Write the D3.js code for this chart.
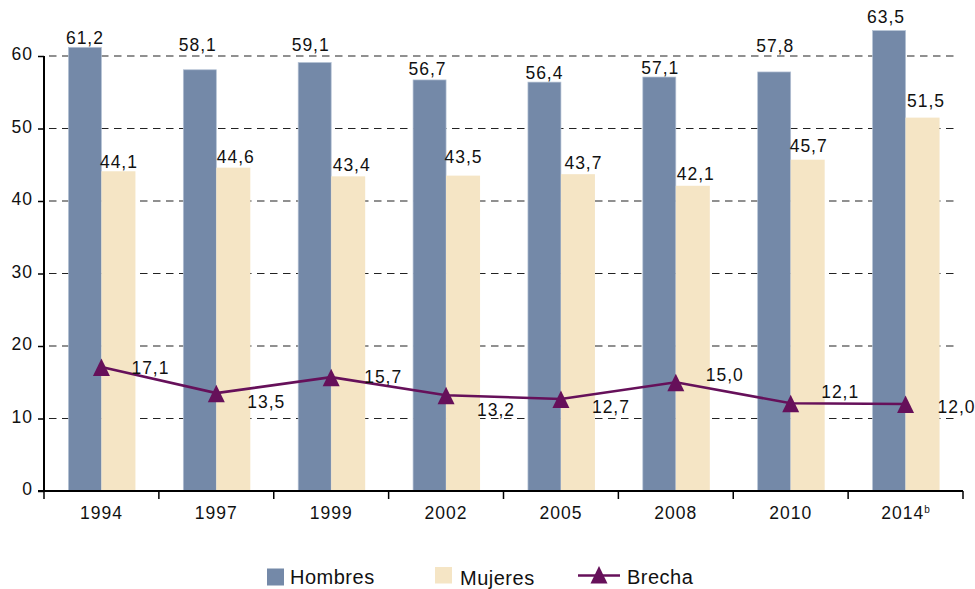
<!DOCTYPE html>
<html><head><meta charset="utf-8">
<script src="https://cdn.jsdelivr.net/npm/d3@7"></script>
<style>body{margin:0;background:#fff;}svg{display:block;font-family:"Liberation Sans",Arial,sans-serif;}</style>
</head><body><svg id="c" width="975" height="589"></svg>
<script>
const years = ["1994","1997","1999","2002","2005","2008","2010","2014"];
const hombres = [61.2,58.1,59.1,56.7,56.4,57.1,57.8,63.5];
const mujeres = [44.1,44.6,43.4,43.5,43.7,42.1,45.7,51.5];
const brecha = [17.1,13.5,15.7,13.2,12.7,15.0,12.1,12.0];
const yTicks = [0,10,20,30,40,50,60];

// label placement (style, not data)
const hGap = [3,18.5,12,5,3,3,20,8];
const hDx = [0,-2,-4,-2,0,1,1,-3];
const mGap = [3,5,5,13,5,6,7.5,11];
const mDx = [1,3,4,1,6,3.5,1.5,4];
const bDx = [49,50,52,50,50,49,49.5,51];
const bDy = [1,8.5,-0.5,15,8,-7,-11.5,3];

const svg = d3.select("#c");
const fmt = v => v.toFixed(1).replace(".", ",");
const C = {h:"#7489a8", m:"#f5e5c5", b:"#66105a"};
const FS = 17.5, LS = 1;
const x0 = 44, x1 = 963;
const x = d3.scaleBand().domain(years).range([x0, x1]);
const y = d3.scaleLinear().domain([0,60]).range([491,56]);
const barW = 33;

function lbl(sel){ return sel.attr("font-size",FS).attr("letter-spacing",LS).attr("fill","#111").attr("text-anchor","middle"); }

// gridlines
svg.append("g").selectAll("line").data(yTicks.filter(d=>d>0)).join("line")
  .attr("x1",x0+5).attr("x2",958).attr("y1",d=>y(d)).attr("y2",d=>y(d))
  .attr("stroke","#222").attr("stroke-width",1.2).attr("stroke-dasharray","7.5,5.5");

// bars
const g = svg.append("g");
years.forEach((yr,i)=>{
  const cx = x(yr)+x.bandwidth()/2;
  g.append("rect").attr("x",cx-barW).attr("width",barW).attr("y",y(hombres[i])).attr("height",y(0)-y(hombres[i]))
    .attr("fill",C.h).attr("stroke","#b4c2d4").attr("stroke-width",0.7);
  g.append("rect").attr("x",cx).attr("width",barW+1).attr("y",y(mujeres[i])).attr("height",y(0)-y(mujeres[i]))
    .attr("fill",C.m);
  lbl(g.append("text")).attr("x",cx-barW/2+hDx[i]).attr("y",y(hombres[i])-hGap[i]).text(fmt(hombres[i]));
  lbl(g.append("text")).attr("x",cx+barW/2+mDx[i]).attr("y",y(mujeres[i])-mGap[i]).text(fmt(mujeres[i]));
});

// y axis
const ya = svg.append("g").attr("transform",`translate(${x0},0)`)
  .call(d3.axisLeft(y).tickValues(yTicks).tickSize(6).tickPadding(5).tickFormat(d=>d));
ya.select(".domain").attr("stroke","#000").attr("stroke-width",2).attr("d",`M0,${y(60)}V${y(0)}`);
ya.selectAll(".tick line").attr("stroke","#000").attr("stroke-width",1.5);
ya.selectAll("text").attr("font-size",FS).attr("letter-spacing",LS).attr("fill","#111")
  .attr("font-family","Liberation Sans, Arial, sans-serif").attr("dy","0.2em");

// x axis
const xa = svg.append("g");
xa.append("line").attr("x1",x0-6).attr("x2",x1).attr("y1",y(0)).attr("y2",y(0)).attr("stroke","#000").attr("stroke-width",2);
const bounds = years.map(d=>x(d)).concat([x1]);
xa.selectAll("line.t").data(bounds).join("line").attr("class","t")
  .attr("x1",d=>d).attr("x2",d=>d).attr("y1",y(0)).attr("y2",y(0)+8).attr("stroke","#000").attr("stroke-width",1.5);
years.forEach((yr,i)=>{
  const t = lbl(xa.append("text")).attr("x",x(yr)+x.bandwidth()/2).attr("y",518.5).text(yr);
  if(i===years.length-1) t.append("tspan").attr("font-size",10).attr("letter-spacing",0).attr("dy",-5.5).text("b");
});

// brecha line
const pts = years.map((yr,i)=>[x(yr)+x.bandwidth()/2, y(brecha[i])]);
svg.append("path").attr("d",d3.line()(pts)).attr("fill","none").attr("stroke",C.b).attr("stroke-width",2.6);
const tri = "M0,-9L8.5,8.5L-8.5,8.5Z";
svg.append("g").selectAll("path").data(pts).join("path")
  .attr("transform",d=>`translate(${d[0]},${d[1]+0.5})`).attr("d",tri).attr("fill",C.b);
lbl(svg.append("g").selectAll("text").data(pts).join("text"))
  .attr("x",(d,i)=>d[0]+bDx[i]).attr("y",(d,i)=>d[1]+bDy[i]+6).text((d,i)=>fmt(brecha[i]));

// legend
const lg = svg.append("g").attr("font-size",20).attr("letter-spacing",0.5).attr("fill","#111");
lg.append("rect").attr("x",267).attr("y",568.5).attr("width",17).attr("height",17).attr("fill",C.h);
lg.append("text").attr("x",290).attr("y",583.5).text("Hombres");
lg.append("rect").attr("x",435).attr("y",567).attr("width",17).attr("height",16.5).attr("fill",C.m);
lg.append("text").attr("x",460).attr("y",585).text("Mujeres");
lg.append("line").attr("x1",578).attr("x2",620).attr("y1",575.5).attr("y2",575.5).attr("stroke",C.b).attr("stroke-width",2.6);
lg.append("path").attr("transform","translate(599,575)").attr("d",tri).attr("fill",C.b);
lg.append("text").attr("x",627).attr("y",583.5).text("Brecha");
</script></body></html>
